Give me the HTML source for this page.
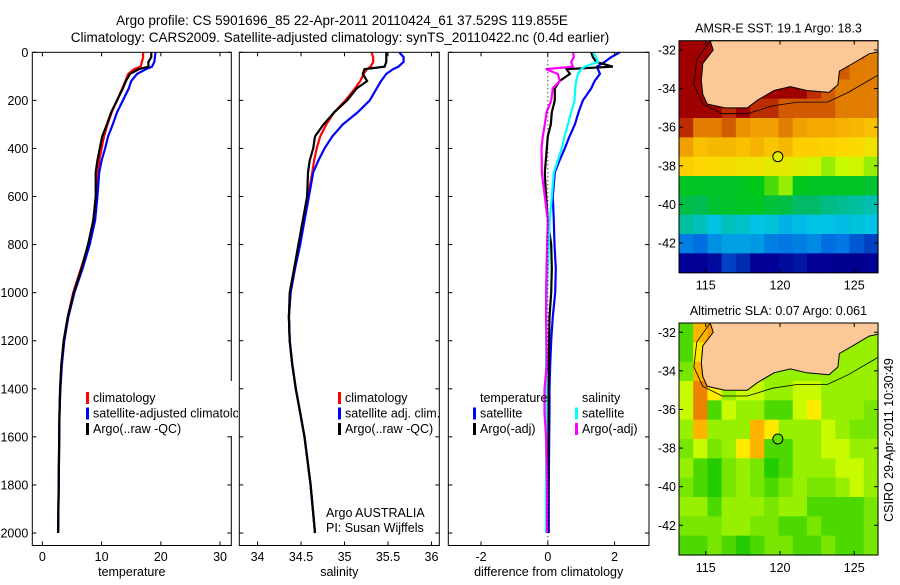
<!DOCTYPE html>
<html><head><meta charset="utf-8"><style>
body{margin:0;background:#fff;}
svg text{font-family:"Liberation Sans",sans-serif;}
</style></head><body>
<svg id="fig" width="900" height="580" viewBox="0 0 900 580" xmlns="http://www.w3.org/2000/svg">
<defs><clipPath id="legclip"><rect x="0" y="0" width="238" height="580"/></clipPath></defs>
<rect width="900" height="580" fill="#fff"/>
<text x="342" y="25" font-size="13.5" text-anchor="middle">Argo profile: CS 5901696_85 22-Apr-2011 20110424_61 37.529S 119.855E</text>
<text x="340" y="42" font-size="13.5" text-anchor="middle">Climatology: CARS2009. Satellite-adjusted climatology: synTS_20110422.nc (0.4d earlier)</text>
<g id="panels"></g>
<g id="maps"></g>
<text transform="translate(893,440) rotate(-90)" font-size="12.5" text-anchor="middle">CSIRO 29-Apr-2011 10:30:49</text>
</svg>
<script>
const depths=[0,20,40,60,70,90,120,150,200,250,300,350,400,450,500,600,700,800,900,1000,1100,1200,1300,1400,1500,1600,1800,2000];
const tClim=[17.0,17.0,16.8,16.6,15.5,14.5,14.0,13.5,12.6,11.7,11.0,10.4,10.0,9.6,9.4,9.1,8.6,7.8,6.5,5.2,4.3,3.6,3.2,3.0,2.9,2.85,2.75,2.65];
const tSat=[19.1,19.0,18.9,18.5,17.5,16.0,15.0,14.6,13.6,12.6,11.9,11.1,10.6,10.0,9.6,9.3,8.9,8.0,6.8,5.4,4.4,3.7,3.3,3.05,2.9,2.85,2.75,2.65];
const tArgo=[18.4,18.4,17.9,17.9,16.3,14.8,14.1,13.6,12.6,11.6,10.9,10.1,9.7,9.3,9.0,9.0,8.6,7.7,6.6,5.3,4.3,3.6,3.2,3.0,2.9,2.85,2.75,2.65];
const sClim=[35.31,35.33,35.33,35.30,35.26,35.22,35.18,35.12,35.01,34.88,34.79,34.72,34.68,34.65,34.63,34.58,34.53,34.48,34.43,34.38,34.36,34.37,34.40,34.44,34.49,34.54,34.61,34.66];
const sSat=[35.63,35.68,35.68,35.62,35.56,35.48,35.42,35.37,35.29,35.15,34.98,34.86,34.77,34.70,34.64,34.59,34.54,34.49,34.43,34.38,34.36,34.37,34.40,34.44,34.49,34.54,34.61,34.66];
const sArgo=[35.48,35.48,35.48,35.46,35.23,35.21,35.26,35.14,35.03,34.88,34.76,34.66,34.64,34.60,34.58,34.57,34.52,34.47,34.42,34.37,34.36,34.37,34.40,34.44,34.49,34.54,34.61,34.66];
const dTSat=[2.16,1.9,1.7,1.47,1.5,1.56,1.4,1.3,1.05,0.92,0.81,0.65,0.51,0.35,0.21,0.15,0.18,0.2,0.24,0.22,0.15,0.1,0.07,0.05,0.05,0.04,0.03,0.03];
const dTArgo=[1.3,1.35,1.45,1.95,0.56,0.66,0.35,0.21,0.21,0.12,0.09,0.0,-0.03,-0.06,-0.09,-0.05,0.0,0.1,0.12,0.1,0.05,0.04,0.03,0.02,0.02,0.02,0.01,0.0];
const dSSat=[1.35,1.45,1.5,1.1,1.0,0.9,0.85,0.82,0.8,0.7,0.6,0.5,0.42,0.3,0.18,0.12,0.06,0.03,0.0,-0.03,-0.05,-0.05,-0.05,-0.06,-0.06,-0.05,-0.05,-0.05];
const dSArgo=[0.75,0.78,0.7,0.75,-0.06,0.3,0.36,0.15,0.1,-0.04,-0.09,-0.15,-0.19,-0.18,-0.18,-0.09,0.0,-0.02,-0.04,-0.05,-0.05,-0.04,-0.03,-0.1,-0.1,-0.05,-0.02,-0.02];
const depthTicks=[0,200,400,600,800,1000,1200,1400,1600,1800,2000];
const tTicks=[0,10,20,30];
const sTicks=[34,34.5,35,35.5,36];
const sTickLabels=["34","34.5","35","35.5","36"];
const dTicks=[-2,0,2];
// SST grid (colour index 0-10), rows north->south, 14 cols
const sstGrid=[
[10,10,10,10,10,10,10,10,10,10,10,10,9,8.5],
[10,10,10,10,10,10,10,10,10,10,10,9,8.5,8.5],
[10,10,10,10,10,10,10,10,10,9.5,9,8.5,8.5,8.5],
[10,10,10,9.5,10,9.5,9.5,9,9,9,9,8.5,8.5,8.5],
[9.5,8.5,8.5,9,8.2,8,8,8.5,8,7.8,7.8,7.6,7.5,7.3],
[8,7.3,7.5,7.5,7.3,7.6,7.2,7.5,7,7,6.9,6.8,6.7,6.5],
[7,6.8,6.7,6.6,6.5,6.5,6.3,6.3,6.2,6.0,5.6,5.8,5.9,5.6],
[4.8,4.8,4.7,4.7,4.8,5,5.3,5.6,4.9,4.8,4.8,4.8,4.8,4.6],
[4.3,4.1,4.6,4.7,4.8,4.8,4.5,4.3,3.9,3.9,3.7,3.6,3.5,3.4],
[3.5,3.3,3.0,3.3,3.2,3.0,3.1,2.8,2.9,3.0,3.0,2.9,3.1,3.0],
[2.2,2.0,2.4,2.6,2.6,2.5,2.2,2.1,2.2,2.3,2.0,2.1,1.8,1.6],
[1.0,1.0,1.1,1.6,1.4,1.0,1.0,1.1,1.2,1.0,0.9,0.8,0.8,0.9]];
const slaGrid=[
[3,8,8.5,5,5,5,5,5,5,5,5,5,5,5],
[3,7,8,5,5,5,5,5,5,5,5,5,5,5],
[4,8,7,5,5,5,5,5,5,5,5,5,5,5],
[6,9,7,5,6,6,5,5,6,6,5,5,5,5],
[6,9,3,6,5,5,3,3,6,7,5,5,5,4],
[5,8,5,5,5,8,7,5,5,5,6,5,4,4],
[4,6,4,5,7,8,3,3,5,5,6,6,5,5],
[5,3,2,4,5,4,2,3,5,5,5,6,6,5],
[4,3,2,4,5,4,3,4,5,4,4,5,6,5],
[5,5,3,5,5,5,4,5,5,3,3,3,3,4],
[4,4,4,5,5,4,4,3,3,4,3,3,3,4],
[3,3,4,3,2,3,4,4,3,3,4,3,3,4]];
const lonTicks=[115,120,125];
const latTicks=[-32,-34,-36,-38,-40,-42];
const coastLon=[115.3,115.5,114.8,114.7,114.8,115.1,116.3,117.8,118.5,119.6,120.7,121.8,123.3,123.9,124.0,124.9,126.0,126.6];
const coastLat=[-31.52,-32.0,-32.7,-33.6,-34.3,-34.8,-35.0,-35.0,-34.6,-34.1,-33.9,-34.1,-34.2,-33.8,-33.1,-32.7,-32.2,-32.1];
const shelfLon=[115.3,114.4,114.2,114.8,116.1,117.8,119.5,121.2,123.2,124.6,126.6];
const shelfLat=[-31.52,-32.5,-33.8,-34.8,-35.3,-35.3,-34.9,-34.7,-34.7,-34.2,-33.3];

const NS='http://www.w3.org/2000/svg';
function mk(tag,attrs,parent){const e=document.createElementNS(NS,tag);for(const k in attrs)e.setAttribute(k,attrs[k]);parent.appendChild(e);return e;}
const Y0=52.3,Y1=545.5,DMAX=2052;
function yD(d){return Y0+d/DMAX*(Y1-Y0);}
const panelsG=document.getElementById('panels');

function panel(name,x0,x1,xmin,xmax,ticks,labels,xlabel,showY,series){
  const g=mk('g',{},panelsG);
  
  
  const xs=v=>x0+(v-xmin)/(xmax-xmin)*(x1-x0);
  series.forEach(s=>{
    const pts=s.vals.map((v,i)=>xs(v).toFixed(1)+','+yD(depths[i]).toFixed(1)).join(' ');
    const p=mk('polyline',{points:pts,fill:'none',stroke:s.color,'stroke-width':2.2,'stroke-linejoin':'miter'},g);
    
    
  });
  mk('rect',{x:x0,y:Y0,width:x1-x0,height:Y1-Y0,fill:'none',stroke:'#000','stroke-width':1},g);
  depthTicks.forEach(d=>{
    const y=yD(d);
    mk('line',{x1:x0,x2:x0+4,y1:y,y2:y,stroke:'#000'},g);
    mk('line',{x1:x1,x2:x1-4,y1:y,y2:y,stroke:'#000'},g);
    if(showY){const t=mk('text',{x:x0-4,y:y+4.5,'font-size':12.5,'text-anchor':'end'},g);t.textContent=d;
      
      }
  });
  ticks.forEach((v,i)=>{
    const x=xs(v);
    mk('line',{x1:x,x2:x,y1:Y1,y2:Y1-4,stroke:'#000'},g);
    mk('line',{x1:x,x2:x,y1:Y0,y2:Y0+4,stroke:'#000'},g);
    const t=mk('text',{x:x,y:561,'font-size':12.5,'text-anchor':'middle'},g);t.textContent=labels[i];
    
    
  });
  const xl=mk('text',{x:(x0+x1)/2,y:576,'font-size':12.5,'text-anchor':'middle'},g);xl.textContent=xlabel;
  
  
  return {g,xs};
}
function legend(g,x,y,items){
  items.forEach((it,i)=>{
    const yy=y+i*15.5;
    if(it.color){mk('rect',{x:x,y:yy-10,width:3,height:12,fill:it.color},g);}
    const t=mk('text',{x:x+7,y:yy,'font-size':12.5},g);t.textContent=it.label;
    
    
  });
}
const p1=panel('temperature-panel',32.3,231.3,-1.7,31.9,tTicks,tTicks.map(String),'temperature',true,
 [{name:'temp-climatology-line',vals:tClim,color:'#ff0000'},{name:'temp-satellite-line',vals:tSat,color:'#0000ff'},{name:'temp-argo-line',vals:tArgo,color:'#000'}]);
const lg1=mk('g',{'clip-path':'url(#legclip)'},p1.g);
mk('rect',{x:88,y:381,width:152,height:55,fill:'#fff'},lg1);
legend(lg1,86,402,[{color:'#ff0000',label:'climatology'},{color:'#0000ff',label:'satellite-adjusted climatology'},{color:'#000',label:'Argo(..raw -QC)'}]);
const p2=panel('salinity-panel',239.3,439.3,33.79,36.09,sTicks,sTickLabels,'salinity',false,
 [{name:'sal-climatology-line',vals:sClim,color:'#ff0000'},{name:'sal-satellite-line',vals:sSat,color:'#0000ff'},{name:'sal-argo-line',vals:sArgo,color:'#000'}]);
mk('rect',{x:340,y:383,width:95,height:50,fill:'#fff'},p2.g);
legend(p2.g,338,402,[{color:'#ff0000',label:'climatology'},{color:'#0000ff',label:'satellite adj. clim.'},{color:'#000',label:'Argo(..raw -QC)'}]);
const a1=mk('text',{x:326,y:517,'font-size':12.5},p2.g);a1.textContent='Argo AUSTRALIA';


const a2=mk('text',{x:326,y:532,'font-size':12.5},p2.g);a2.textContent='PI: Susan Wijffels';


const p3=panel('difference-panel',448.3,649,-2.98,3.03,dTicks,dTicks.map(String),'difference from climatology',false,
 [{name:'diff-temp-satellite-line',vals:dTSat,color:'#0000ff'},{name:'diff-temp-argo-line',vals:dTArgo,color:'#000'},{name:'diff-sal-satellite-line',vals:dSSat,color:'#00ffff'},{name:'diff-sal-argo-line',vals:dSArgo,color:'#ff00ff'}]);
const zx=p3.xs(0);
mk('line',{x1:zx,x2:zx,y1:Y0,y2:Y1-2,stroke:'#000','stroke-dasharray':'1,3','stroke-width':1},p3.g);
legend(p3.g,473,402,[{label:'temperature'},{color:'#0000ff',label:'satellite'},{color:'#000',label:'Argo(-adj)'}]);
legend(p3.g,575,402,[{label:'salinity'},{color:'#00ffff',label:'satellite'},{color:'#ff00ff',label:'Argo(-adj)'}]);

// maps
const mapsG=document.getElementById('maps');
function interp(stops,v){
  if(v<=stops[0][0])return `rgb(${stops[0][1]})`;
  for(let i=1;i<stops.length;i++){if(v<=stops[i][0]){const a=stops[i-1],b=stops[i],f=(v-a[0])/(b[0]-a[0]);
    const c=a[1].map((x,k)=>Math.round(x+(b[1][k]-x)*f));return `rgb(${c})`;}}
  return `rgb(${stops[stops.length-1][1]})`;}
const sstStops=[[0,[0,0,110]],[1,[0,0,150]],[2,[0,110,225]],[3,[0,195,230]],[4,[0,185,90]],[5,[0,200,20]],[5.8,[200,250,0]],[6.8,[255,215,0]],[8,[240,160,0]],[9,[210,90,0]],[10,[160,0,0]]];
const slaStops=[[2,[34,204,0]],[4,[120,230,0]],[5,[150,240,0]],[6,[200,250,0]],[7,[255,235,0]],[8,[255,180,0]],[9,[235,130,0]],[10,[200,90,0]]];
function sstCol(v){return interp(sstStops,v);}
function slaCol(v){return interp(slaStops,v);}
function map(name,top,title,grid,cmap,dotFill){
  const X0=679,X1=878,Y0m=top,Y1m=top+232,LON0=113.2,LON1=126.6,LAT0=-31.52,LAT1=-43.54;
  const xl=l=>X0+(l-LON0)/(LON1-LON0)*(X1-X0);
  const yl=l=>Y0m+(l-LAT0)/(LAT1-LAT0)*(Y1m-Y0m);
  const g=mk('g',{},mapsG);
  
  
  const rows=grid.length,cols=grid[0].length,cw=(X1-X0)/cols,ch=(Y1m-Y0m)/rows;
  grid.forEach((row,r)=>row.forEach((v,c)=>{
    const cell=mk('rect',{x:(X0+c*cw).toFixed(2),y:(Y0m+r*ch).toFixed(2),width:(cw+0.6).toFixed(2),height:(ch+0.6).toFixed(2),fill:cmap(v)},g);
    
    
  }));
  const cpts=coastLon.map((l,i)=>xl(l).toFixed(1)+','+yl(coastLat[i]).toFixed(1));
  const land=mk('polygon',{points:cpts.join(' ')+' '+X1+','+Y0m,fill:'#fcc898',stroke:'#000','stroke-width':1},g);
  
  
  const shelf=mk('polyline',{points:shelfLon.map((l,i)=>xl(l).toFixed(1)+','+yl(shelfLat[i]).toFixed(1)).join(' '),fill:'none',stroke:'#000','stroke-width':0.8},g);
  
  
  mk('rect',{x:X0,y:Y0m,width:X1-X0,height:Y1m-Y0m,fill:'none',stroke:'#000'},g);
  lonTicks.forEach(l=>{const x=xl(l);
    mk('line',{x1:x,x2:x,y1:Y1m,y2:Y1m-4,stroke:'#000'},g);mk('line',{x1:x,x2:x,y1:Y0m,y2:Y0m+4,stroke:'#000'},g);
    const t=mk('text',{x:x,y:Y1m+17,'font-size':12.5,'text-anchor':'middle'},g);t.textContent=l;
    
    });
  latTicks.forEach(l=>{const y=yl(l);
    mk('line',{x1:X0,x2:X0+4,y1:y,y2:y,stroke:'#000'},g);mk('line',{x1:X1,x2:X1-4,y1:y,y2:y,stroke:'#000'},g);
    const t=mk('text',{x:X0-3,y:y+4.5,'font-size':12.5,'text-anchor':'end'},g);t.textContent=l;
    
    });
  const tt=mk('text',{x:(X0+X1)/2,y:top-8,'font-size':12.5,'text-anchor':'middle'},g);tt.textContent=title;
  
  
  const dot=mk('circle',{cx:xl(119.855),cy:yl(-37.529),r:5,fill:dotFill,stroke:'#000','stroke-width':1},g);
  
  
}
map('sst-map',40.7,'AMSR-E SST: 19.1  Argo: 18.3',sstGrid,sstCol,'#e0f000');
map('sla-map',323,'Altimetric SLA: 0.07  Argo: 0.061',slaGrid,slaCol,'#66dd00');
</script>
</body></html>
